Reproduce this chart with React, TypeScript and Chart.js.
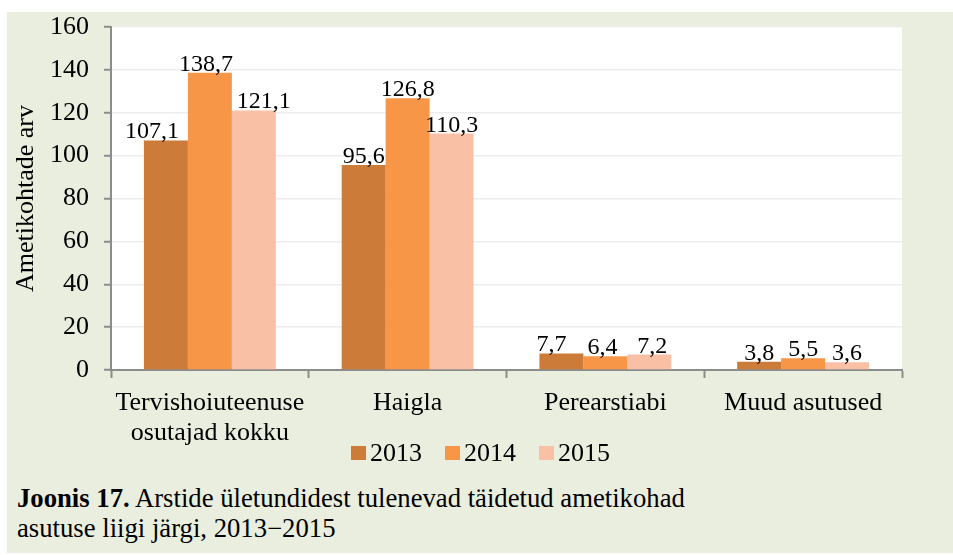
import React, { useEffect, useRef } from "react";
import { Chart, registerables } from "chart.js";

Chart.register(...registerables);

const categories: (string | string[])[] = [
  ["Tervishoiuteenuse", "osutajad kokku"],
  "Haigla",
  "Perearstiabi",
  "Muud asutused",
];
const seriesNames = ["2013", "2014", "2015"];
const values2013 = [107.1, 95.6, 7.7, 3.8];
const values2014 = [138.7, 126.8, 6.4, 5.5];
const values2015 = [121.1, 110.3, 7.2, 3.6];
const yMin = 0;
const yMax = 160;
const yStep = 20;
const yAxisTitle = "Ametikohtade arv";
const captionBold = "Joonis 17.";
const captionLine1 = " Arstide ületundidest tulenevad täidetud ametikohad";
const captionLine2 = "asutuse liigi järgi, 2013−2015";

const seriesColors = ["#CC7B38", "#F79646", "#F9C0A6"];
// small horizontal nudges of value labels (px), per series per category
const labelNudge = [
  [-14, 0, -10, 0],
  [-4, 0, -3, 0],
  [10, 0, 3, 0],
];

const FONT = '"Liberation Serif", "Times New Roman", serif';
const BG = "#EAEEDF";

const fmt = (v: number) => v.toFixed(1).replace(".", ",");

export default function App() {
  const canvasRef = useRef<HTMLCanvasElement | null>(null);

  useEffect(() => {
    const canvas = canvasRef.current;
    if (!canvas) return;
    const seriesValues = [values2013, values2014, values2015];

    const plotBg = {
      id: "plotBg",
      beforeDraw(chart: any) {
        const { ctx, chartArea } = chart;
        ctx.save();
        ctx.fillStyle = "#FFFFFF";
        ctx.fillRect(chartArea.left, chartArea.top - 1, chartArea.right - chartArea.left, chartArea.bottom - chartArea.top + 1);
        ctx.restore();
      },
    };

    const valueLabels = {
      id: "valueLabels",
      afterDatasetsDraw(chart: any) {
        const { ctx } = chart;
        ctx.save();
        ctx.font = `24px ${FONT}`;
        ctx.fillStyle = "#000000";
        ctx.textAlign = "center";
        ctx.textBaseline = "alphabetic";
        chart.data.datasets.forEach((ds: any, di: number) => {
          const meta = chart.getDatasetMeta(di);
          meta.data.forEach((bar: any, i: number) => {
            const v = ds.data[i];
            ctx.fillText(fmt(v), bar.x + labelNudge[di][i], bar.y - 2);
          });
        });
        ctx.restore();
      },
    };

    const chart = new Chart(canvas, {
      type: "bar",
      data: {
        labels: categories,
        datasets: seriesNames.map((name, i) => ({
          label: name,
          data: seriesValues[i],
          backgroundColor: seriesColors[i],
          borderWidth: 0,
          categoryPercentage: 0.667,
          barPercentage: 1.0,
        })),
      },
      options: {
        responsive: false,
        animation: false,
        devicePixelRatio: 1,
        layout: { padding: { left: 0, right: 51, top: 15, bottom: 0 } },
        plugins: {
          legend: { display: false },
          tooltip: { enabled: false },
          title: { display: false },
        },
        scales: {
          x: {
            offset: true,
            grid: {
              display: true,
              offset: true,
              drawOnChartArea: false,
              drawTicks: true,
              tickLength: 8,
              tickColor: "#8C8C8C",
              tickWidth: 2,
              color: "#8C8C8C",
            },
            border: { display: true, color: "#8C8C8C", width: 2 },
            ticks: {
              color: "#000000",
              font: { family: FONT, size: 26, lineHeight: 1.15 },
              padding: 10,
              maxRotation: 0,
              autoSkip: false,
            },
            afterFit: (s: any) => {
              s.height = 92;
              s.paddingLeft = 0;
              s.paddingRight = 0;
            },
          },
          y: {
            min: yMin,
            max: yMax,
            grid: {
              display: true,
              color: "#EDEDED",
              lineWidth: 1.5,
              drawTicks: true,
              tickLength: 7,
              tickColor: "#8C8C8C",
              tickWidth: 2,
            },
            border: { display: true, color: "#8C8C8C", width: 2 },
            ticks: {
              stepSize: yStep,
              color: "#000000",
              font: { family: FONT, size: 26 },
              padding: 15,
            },
            title: {
              display: true,
              text: yAxisTitle,
              color: "#000000",
              font: { family: FONT, size: 26, lineHeight: 1.15 },
              padding: { top: 4, bottom: 0 },
            },
            afterFit: (s: any) => {
              s.width = 104;
              s.paddingTop = 0;
              s.paddingBottom = 0;
            },
          },
        },
      },
      plugins: [plotBg, valueLabels],
    });

    return () => {
      chart.destroy();
    };
  }, []);

  return (
    <div
      style={{
        position: "absolute",
        left: 7,
        top: 12,
        width: 946,
        height: 541,
        background: BG,
        fontFamily: FONT,
        color: "#000",
      }}
    >
      <canvas
        ref={canvasRef}
        width={946}
        height={450}
        style={{ position: "absolute", left: 0, top: 0, width: 946, height: 450 }}
      />
      <div
        style={{
          position: "absolute",
          left: 344,
          top: 426,
          fontSize: 26,
          lineHeight: "30px",
          whiteSpace: "nowrap",
        }}
      >
        {seriesNames.map((name, i) => (
          <span key={name} style={{ marginRight: i < seriesNames.length - 1 ? 23 : 0 }}>
            <span
              style={{
                display: "inline-block",
                width: 15,
                height: 14,
                background: seriesColors[i],
                marginRight: 4,
                marginBottom: 1,
                verticalAlign: "baseline",
              }}
            />
            {name}
          </span>
        ))}
      </div>
      <div
        style={{
          position: "absolute",
          left: 10,
          top: 471,
          fontSize: 26.7,
          lineHeight: "30px",
          whiteSpace: "nowrap",
        }}
      >
        <b>{captionBold}</b>
        {captionLine1}
        <br />
        {captionLine2}
      </div>
    </div>
  );
}
